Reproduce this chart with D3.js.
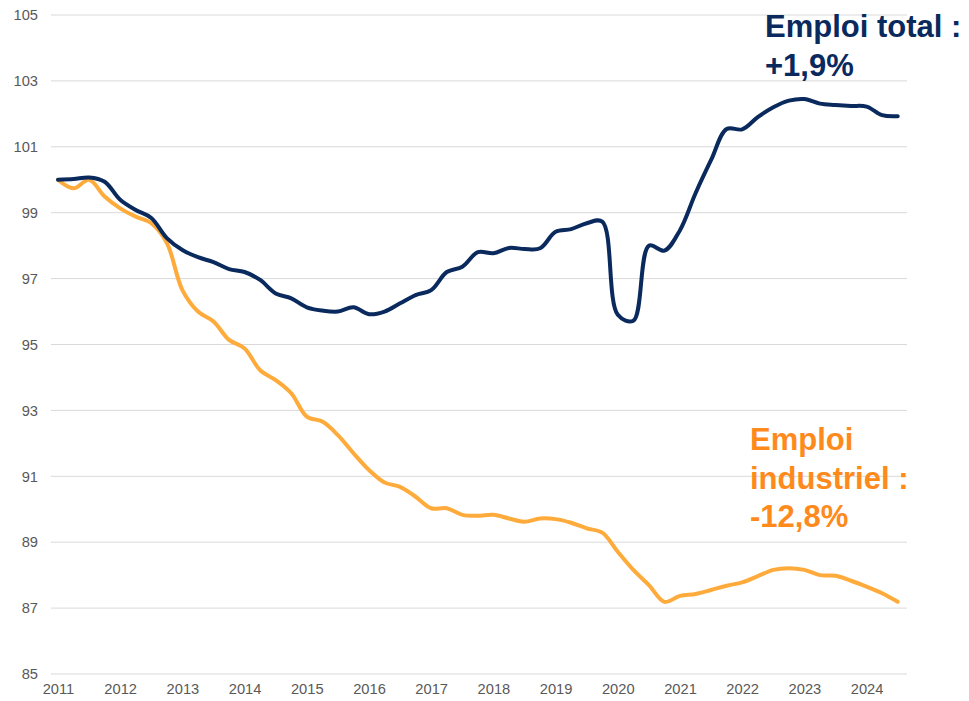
<!DOCTYPE html>
<html>
<head>
<meta charset="utf-8">
<script src="https://cdn.jsdelivr.net/npm/d3@7"></script>
<style>
  body { margin: 0; background: #fff; }
  svg { display: block; font-family: "Liberation Sans", Arial, sans-serif; }
</style>
</head>
<body>
<div id="chart"></div>
<script>
const width = 969;
const height = 701;

// quarterly index, 2011 Q1 = 100
const years = ["2011", "2012", "2013", "2014", "2015", "2016", "2017",
  "2018", "2019", "2020", "2021", "2022", "2023", "2024"];

const yTicks = [85, 87, 89, 91, 93, 95, 97, 99, 101, 103, 105];

const emploiTotal = [
  100.0, 100.02, 100.07, 99.94, 99.39, 99.08, 98.84, 98.23, 97.87, 97.65,
  97.5, 97.29, 97.2, 96.96, 96.55, 96.4, 96.13, 96.03, 96.0, 96.13,
  95.92, 96.0, 96.25, 96.5, 96.65, 97.2, 97.36, 97.8, 97.77, 97.93,
  97.9, 97.92, 98.42, 98.5, 98.68, 98.73, 95.9, 95.72, 98.0, 97.85,
  98.47, 99.59, 100.6, 101.54, 101.53, 101.9, 102.2, 102.4, 102.45, 102.31,
  102.27, 102.24, 102.22, 101.96, 101.93
];

const emploiIndustriel = [
  100.0, 99.74, 100.0, 99.49, 99.13, 98.88, 98.68, 98.08, 96.65, 96.0,
  95.7, 95.14, 94.88, 94.22, 93.92, 93.52, 92.81, 92.66, 92.25, 91.7,
  91.19, 90.81, 90.68, 90.38, 90.03, 90.03, 89.83, 89.8, 89.83, 89.72,
  89.62, 89.72, 89.7, 89.59, 89.42, 89.29, 88.71, 88.16, 87.7, 87.19,
  87.37, 87.43, 87.55, 87.68, 87.78, 87.97, 88.16, 88.21, 88.16, 88.0,
  87.98, 87.83, 87.65, 87.45, 87.19
];

const navy = "#0a2a5e";
const orangeLine = "#ffab3c";
const orangeText = "#ff8a1c";

const svg = d3.select("#chart")
  .append("svg")
  .attr("width", width)
  .attr("height", height);

const x = d3.scaleLinear()
  .domain([0, emploiTotal.length - 1])
  .range([58, 897.7]);

const y = d3.scaleLinear()
  .domain([85, 105])
  .range([674, 15]);

const gridLeft = 51;
const gridRight = 907;

// gridlines
svg.append("g")
  .selectAll("line")
  .data(yTicks)
  .join("line")
  .attr("x1", gridLeft)
  .attr("x2", gridRight)
  .attr("y1", (d) => y(d))
  .attr("y2", (d) => y(d))
  .attr("stroke", "#d9d9d9")
  .attr("stroke-width", 1);

// y axis labels
const yAxis = svg.append("g")
  .attr("transform", `translate(${gridLeft - 13}, 0)`)
  .call(d3.axisLeft(y).tickValues(yTicks).tickSize(0).tickPadding(0));
yAxis.select(".domain").remove();
yAxis.selectAll("text")
  .attr("fill", "#595959")
  .style("font-size", "14.7px")
  .style("font-family", "Liberation Sans, Arial, sans-serif");

// x axis labels, one per year (first quarter)
const xAxis = svg.append("g")
  .attr("transform", `translate(0, ${y(85) + 7})`)
  .call(d3.axisBottom(x)
    .tickValues(years.map((d, i) => i * 4))
    .tickFormat((d) => years[d / 4])
    .tickSize(0)
    .tickPadding(3));
xAxis.select(".domain").remove();
xAxis.selectAll("text")
  .attr("fill", "#595959")
  .style("font-size", "14.7px")
  .style("font-family", "Liberation Sans, Arial, sans-serif");

const line = d3.line()
  .x((d, i) => x(i))
  .y((d) => y(d))
  .curve(d3.curveCatmullRom);

svg.append("path")
  .datum(emploiIndustriel)
  .attr("fill", "none")
  .attr("stroke", orangeLine)
  .attr("stroke-width", 4)
  .attr("stroke-linecap", "round")
  .attr("stroke-linejoin", "round")
  .attr("d", line);

svg.append("path")
  .datum(emploiTotal)
  .attr("fill", "none")
  .attr("stroke", navy)
  .attr("stroke-width", 4)
  .attr("stroke-linecap", "round")
  .attr("stroke-linejoin", "round")
  .attr("d", line);

// annotations
function drawLabel(lines, left, baseline, color) {
  const t = svg.append("text")
    .attr("x", left)
    .attr("y", baseline)
    .attr("fill", color)
    .style("font-size", "31px")
    .style("font-weight", "bold");
  lines.forEach((s, i) => {
    t.append("tspan")
      .attr("x", left)
      .attr("dy", i === 0 ? 0 : 38.5)
      .text(s);
  });
}

drawLabel(["Emploi total :", "+1,9%"], 765, 37, navy);
drawLabel(["Emploi", "industriel :", "-12,8%"], 750, 450, orangeText);
</script>
</body>
</html>
